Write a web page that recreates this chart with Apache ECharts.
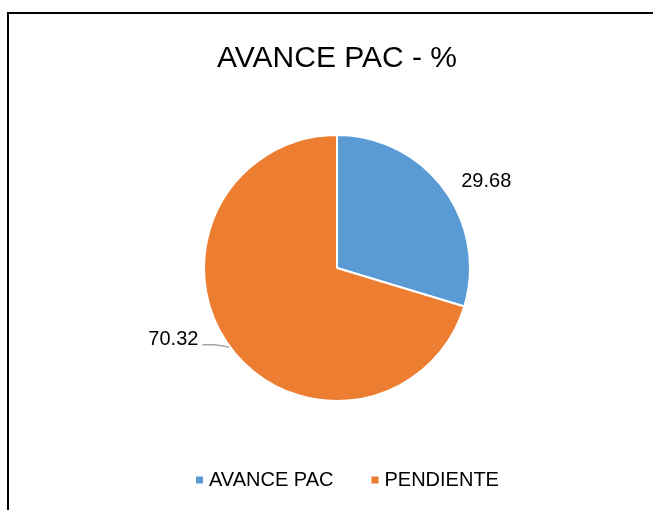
<!DOCTYPE html>
<html>
<head>
<meta charset="utf-8">
<script src="https://cdn.jsdelivr.net/npm/echarts@6/dist/echarts.min.js"></script>
<style>html,body{margin:0;padding:0;background:#fff}#c{width:653px;height:510px}</style>
</head>
<body>
<div id="c"></div>
<script>
const titleText = 'AVANCE PAC - %';
const categories = ['AVANCE PAC', 'PENDIENTE'];
const values = [29.68, 70.32];
const colors = ['#5B9BD5', '#ED7D31'];

const chart = echarts.init(document.getElementById('c'), null, {renderer: 'canvas'});
const FONT = 'Liberation Sans, Arial, sans-serif';
chart.setOption({
  animation: false,
  backgroundColor: '#fff',
  graphic: [{
    type: 'rect', silent: true, z: 100,
    shape: {x: 8, y: 13, width: 720, height: 620},
    style: {fill: 'none', stroke: '#000', lineWidth: 2}
  }],
  title: {
    text: titleText, left: 212, top: 39,
    textStyle: {fontFamily: FONT, fontSize: 30, fontWeight: 'normal', color: '#000'}
  },
  legend: {
    data: categories, left: 189, top: 465, icon: 'rect', itemWidth: 9, itemHeight: 9, itemGap: 36,
    textStyle: {fontFamily: FONT, fontSize: 20, color: '#000'}
  },
  series: [{
    type: 'pie', center: [337, 268], radius: 133, startAngle: 90, clockwise: true,
    itemStyle: {borderColor: '#fff', borderWidth: 2},
    label: {show: true, position: 'outside', fontFamily: FONT, fontSize: 20, color: '#000',
      formatter: p => p.value.toFixed(2)},
    labelLine: {smooth: false, lineStyle: {color: '#a6a6a6', width: 1.5}},
    labelLayout: p => {
      if (p.dataIndex !== 1 || !p.labelLinePoints) return {};
      const dx = -6, dy = -11;
      const r = p.labelRect;
      const s = p.labelLinePoints[0];
      const cy = r.y + dy + r.height / 2 + 5;
      const right = r.x + dx + r.width + 4;
      return {dx, dy, labelLinePoints: [s, [s[0] - 15, cy], [right, cy]]};
    },
    data: categories.map((n, i) => ({
      name: n, value: values[i], itemStyle: {color: colors[i]},
      labelLine: i === 0 ? {show: false, smooth: false, length: 13, length2: 2} : {show: true, smooth: false, length: 6, length2: 16}
    }))
  }]
});
</script>
</body>
</html>
